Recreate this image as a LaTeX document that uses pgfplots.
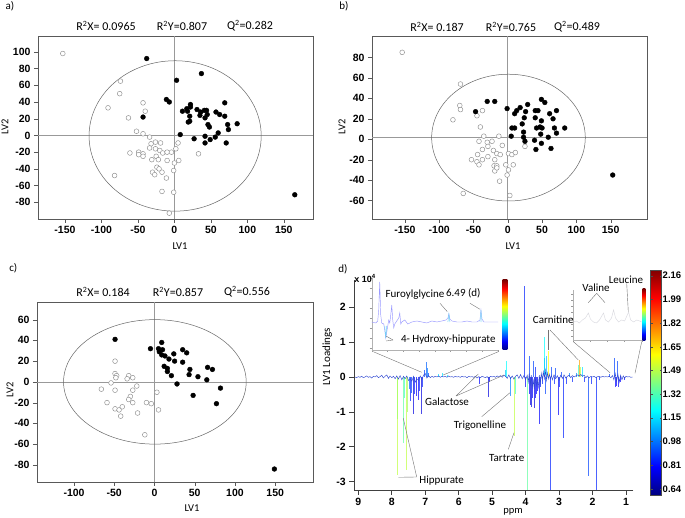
\documentclass[border=0pt]{standalone}
\usepackage{fontspec}
\setmainfont{Carlito}
\newfontfamily\tfont{Liberation Sans}[BoldFont={Liberation Sans Bold}]
\usepackage{pgfplots}
\pgfplotsset{compat=1.18}

\pgfdeclareverticalshading{jetv}{100bp}{rgb(0bp)=(0,0,.5); rgb(25bp)=(0,0,.5); rgb(31.25bp)=(0,0,1); rgb(43.75bp)=(0,1,1); rgb(56.25bp)=(1,1,0); rgb(68.75bp)=(1,0,0); rgb(75bp)=(.5,0,0); rgb(100bp)=(.5,0,0)}
\definecolor{base}{rgb}{0.18,0.28,0.82}

\pgfplotsset{
  boldticks/.style={
    ticklabel style={font=\tfont\bfseries\fontsize{10.5}{12}\selectfont, text=black},
    xticklabel={\pgfmathprintnumber[assume math mode=true]{\tick}},
    yticklabel={\pgfmathprintnumber[assume math mode=true]{\tick}}},
  score/.style={scale only axis, anchor=south west, tick align=outside, tick pos=left,
    major tick length=4pt, axis line style={black!65, line width=0.6pt}, tick style={black!65},
    boldticks},
  open/.style={only marks, mark=*, mark size=2.4pt, mark options={draw=black!45, fill=white, line width=0.45pt}},
  full/.style={only marks, mark=*, mark size=2.4pt, mark options={draw=black, fill=black}},
  inset/.style={scale only axis, anchor=south west, axis x line*=bottom, axis y line*=left,
    axis line style={black!30, line width=0.4pt}, tick style={black!40, line width=0.3pt},
    major tick length=2pt, tick align=outside, xticklabels={}, yticklabels={}},
}
\newcommand{\ann}{\fontsize{11}{13}\selectfont}
\newcommand{\ttl}{\fontsize{12}{14}\selectfont}
\newcommand{\lab}{\fontsize{10.5}{12}\selectfont}

\begin{document}
\begin{tikzpicture}
\useasboundingbox (0pt,0pt) rectangle (685pt,518pt);

% ---------- a ----------
\begin{axis}[score, at={(38pt,299pt)}, width=275pt, height=183pt,
  xmin=-187, xmax=190, ymin=-100, ymax=119,
  xtick={-150,-100,...,150}, ytick={-80,-60,...,100}]
\draw[black!40, line width=0.6pt] (axis cs:0,-100) -- (axis cs:0,119);
\draw[black!40, line width=0.6pt] (axis cs:-187,0) -- (axis cs:190,0);
\draw[black!60, line width=0.5pt] (axis cs:1,-0.6) ellipse [x radius=118, y radius=90];
\addplot[open] coordinates {(-153,98)(-74,65)(-75,50)(-91,33)(-43,39)(-40,29)(-63,21)(-52,5)(-43,2)(-34,-2)(-32,-10)(-34,-15)(-26,-8)(-19,-9)(-26,-16)(-20,-18)(-16,-21)(-10,-20)(-4,-20)(2,-16)(5,-9)(-61,-21)(-49,-20)(-43,-22)(-43,-25)(-49,-23)(-31,-29)(-25,-25)(-22,-29)(-10,-30)(0,-33)(6,-30)(33,-22)(-24,-38)(-21,-40)(-17,-44)(-30,-44)(-27,-47)(-11,-51)(-1,-42)(-82,-48)(-17,-67)(-1,-68)(-7,-93)};
\addplot[full] coordinates {(-38,92)(37,74)(3,66)(-11,43)(-7,40)(-43,22)(8,1)(11,29)(17,32)(22,37)(22,34)(18,29)(21,23)(19,16)(21,17)(31,31)(36,28)(35,24)(41,30)(44,30)(42,21)(45,25)(46,13)(48,10)(57,28)(62,25)(69,39)(69,23)(73,13)(74,7)(86,14)(27,-4)(42,-1)(42,-9)(49,-5)(56,-2)(60,3)(71,-9)(165,-71)};
\end{axis}

% ---------- b ----------
\begin{axis}[score, at={(372pt,299pt)}, width=275pt, height=183pt,
  xmin=-198, xmax=203, ymin=-78, ymax=101,
  xtick={-150,-100,...,150}, ytick={-60,-40,...,80}]
\draw[black!40, line width=0.6pt] (axis cs:0,-78) -- (axis cs:0,101);
\draw[black!40, line width=0.6pt] (axis cs:-198,2) -- (axis cs:203,2);
\draw[black!60, line width=0.5pt] (axis cs:1,1.6) ellipse [x radius=112, y radius=62];
\addplot[open] coordinates {(-154,85)(-69,54)(-70,33)(-69,29)(-80,19)(-37,28)(-45,23)(-40,12)(-53,-20)(-35,3)(-42,-2)(-30,-3)(-29,-7)(-23,-2)(-13,3)(-8,-6)(-37,-10)(-44,-15)(-45,-22)(-42,-25)(-37,-20)(-29,-17)(-21,-11)(-16,-14)(-11,-15)(-19,-20)(-20,-26)(-16,-26)(-19,-31)(-16,-28)(-3,-25)(1,-14)(6,-15)(11,-13)(8,-25)(1,-30)(-1,-35)(-12,-41)(3,-55)(-65,-53)(25,-7)};
\addplot[full] coordinates {(-30,37)(-19,37)(-47,27)(-1,30)(5,3)(6,11)(10,11)(10,25)(13,28)(18,31)(29,34)(26,27)(24,21)(21,15)(23,7)(23,2)(25,-2)(40,28)(44,28)(40,21)(42,11)(47,12)(49,18)(50,11)(48,5)(39,-1)(41,-10)(49,39)(54,36)(61,25)(66,20)(71,28)(68,11)(71,6)(83,11)(59,2)(49,-4)(63,-9)(153,-35)};
\end{axis}

% ---------- c ----------
\begin{axis}[score, at={(37pt,36pt)}, width=276pt, height=180pt,
  xmin=-146, xmax=197, ymin=-96.5, ymax=77,
  xtick={-100,-50,...,150}, ytick={-80,-60,...,60}]
\draw[black!40, line width=0.6pt] (axis cs:0,-96.5) -- (axis cs:0,77);
\draw[black!40, line width=0.6pt] (axis cs:-146,0) -- (axis cs:197,0);
\draw[black!60, line width=0.5pt] (axis cs:0.5,0) ellipse [x radius=113.5, y radius=60];
\addplot[open] coordinates {(-49,20)(-49,8)(-47,6)(-48,4)(-54,-1)(-66,-7)(-49,-8)(-59,-20)(-49,-26)(-44,-27)(-40,-24)(-42,-33)(-32,6)(-34,3)(-27,4)(-27,-8)(-22,-4)(-30,-14)(-32,-17)(-27,-20)(-21,-30)(-10,-20)(-4,-21)(3,-10)(5,-27)(-12,-51)};
\addplot[full] coordinates {(-49,41)(-5,32)(9,38)(5,32)(10,31)(6,29)(9,26)(13,25)(18,22)(24,27)(25,20)(12,15)(16,13)(16,10)(21,6)(28,-2)(35,31)(40,28)(35,19)(44,12)(43,7)(54,5)(66,14)(72,12)(65,2)(48,-13)(82,-6)(77,-21)(149,-84)};
\end{axis}

% ---------- d ----------
\begin{axis}[scale only axis, anchor=south west, at={(354.3pt,28pt)}, width=279pt, height=210pt,
  x dir=reverse, xmin=0.78, xmax=9.12, ymin=-3.24, ymax=2.78,
  axis x line*=bottom, axis y line*=left, tick align=outside, major tick length=5pt,
  xtick={1,...,9}, ytick={-3,...,2},
  axis line style={black!75, line width=0.7pt}, tick style={black!75, line width=0.6pt},
  boldticks,
  colormap/jet, point meta min=0.6, point meta max=2.2,
  colorbar,
  colorbar style={at={(parent axis.south east)}, anchor=south west, xshift=8.7pt, yshift=-5pt,
    scale only axis, width=11pt, height=225pt, axis lines=box,
    ytick={0.64,0.81,0.98,1.15,1.32,1.49,1.65,1.82,1.99,2.16},
    major tick length=2pt, axis line style={black!70}, tick style={black!70},
    yticklabel={\pgfmathprintnumber[assume math mode=true, fixed, fixed zerofill, precision=2]{\tick}},
    yticklabel style={font=\tfont\bfseries\fontsize{9.5}{11}\selectfont, inner sep=1pt, text=black}},
]
\addplot[quiver={u=0, v=\thisrow{v}, colored=mapped color}, point meta=\thisrow{c}, -, line width=0.45pt, opacity=0.7] table {
x y v c
7.85 0 -2.82 1.50
7.83 0 -1.20 1.45
7.67 0 -1.90 1.35
7.64 0 -0.60 1.30
7.56 0 -2.68 1.50
7.53 0 -1.00 1.45
7.48 0 -0.35 0.95
7.45 0 -0.70 0.85
7.42 0 -0.45 0.90
7.36 0 -1.05 0.75
7.32 0 -0.50 0.85
7.28 0 -0.55 0.80
7.22 0 -0.65 0.80
7.19 0 -0.40 0.85
7.13 0 -1.05 0.75
7.10 0 -0.30 0.85
7.02 0 0.20 0.90
6.98 0 0.42 0.95
6.95 0 0.25 1.00
6.90 0 0.12 0.90
6.62 0 0.08 1.15
6.50 0 0.10 1.15
6.33 0 0.07 1.20
5.40 0 -0.20 0.80
5.12 0 -0.56 0.75
5.08 0 -0.15 0.80
4.62 0 0.20 1.10
4.58 0 0.45 1.20
4.47 0 -0.55 1.00
4.35 0 -1.70 1.50
4.32 0 -0.50 1.30
4.04 0 2.62 0.85
4.02 0 -0.30 0.80
3.95 0 -3.30 1.35
3.90 0 0.60 0.90
3.88 0 -0.50 0.80
3.85 0 -0.80 0.75
3.82 0 -0.85 0.75
3.80 0 -0.60 0.80
3.78 0 0.45 0.90
3.75 0 -0.90 0.75
3.72 0 -0.60 0.80
3.70 0 0.30 0.85
3.68 0 -0.50 0.80
3.64 0 -0.40 0.80
3.60 0 -1.35 0.80
3.57 0 -0.30 0.85
3.50 0 -0.20 0.85
3.45 0 0.55 0.90
3.43 0 1.15 1.20
3.40 0 -0.50 0.90
3.37 0 0.60 1.10
3.33 0 0.75 1.60
3.26 0 -3.40 0.85
3.22 0 0.30 0.90
3.15 0 -0.20 0.85
3.10 0 0.25 0.90
3.03 0 -1.10 0.80
2.98 0 -0.30 0.85
2.92 0 0.15 0.90
2.86 0 -1.75 0.85
2.80 0 -0.20 0.85
2.70 0 0.12 1.00
2.60 0 -0.15 0.85
2.50 0 0.10 1.00
2.42 0 0.35 1.30
2.39 0 0.50 1.75
2.36 0 0.30 1.50
2.30 0 0.30 1.15
2.25 0 -0.15 0.85
2.13 0 -2.85 0.90
2.05 0 -0.20 0.85
1.90 0 -3.40 0.85
1.80 0 -0.10 0.85
1.50 0 0.08 0.90
1.35 0 0.55 0.90
1.33 0 -0.30 0.80
1.28 0 -0.25 0.80
1.25 0 0.45 0.90
1.22 0 -0.30 0.80
1.18 0 -0.15 0.80
1.05 0 -0.10 0.80
};
\addplot[base, line width=0.45pt] coordinates {
(9.10,0.00)(9.05,-0.02)(9.00,0.01)(8.95,-0.01)(8.90,0.02)(8.85,-0.02)(8.80,0.00)(8.75,0.03)(8.70,-0.01)(8.65,0.01)(8.60,-0.03)(8.55,0.02)(8.50,0.00)(8.45,0.04)(8.40,-0.02)(8.35,0.01)(8.30,0.05)(8.25,-0.03)(8.20,0.02)(8.15,0.06)(8.10,-0.04)(8.05,0.03)(8.00,-0.02)(7.95,0.02)(7.90,-0.05)(7.85,0.03)(7.80,-0.06)(7.75,0.04)(7.70,-0.08)(7.65,0.02)(7.60,-0.05)(7.55,0.03)(7.50,-0.10)(7.45,-0.05)(7.40,-0.12)(7.35,0.02)(7.30,-0.15)(7.25,-0.05)(7.20,-0.10)(7.15,0.03)(7.10,-0.08)(7.05,0.05)(7.00,0.10)(6.95,-0.03)(6.90,0.04)(6.85,-0.02)(6.80,0.02)(6.75,-0.01)(6.70,0.02)(6.65,0.00)(6.60,0.03)(6.55,-0.01)(6.50,0.02)(6.45,0.00)(6.40,0.02)(6.35,-0.01)(6.30,0.03)(6.25,0.00)(6.20,0.01)(6.15,-0.01)(6.10,0.02)(6.05,0.00)(6.00,0.01)(5.95,-0.01)(5.90,0.02)(5.85,0.00)(5.80,0.01)(5.75,-0.02)(5.70,0.02)(5.65,0.00)(5.60,0.01)(5.55,-0.01)(5.50,0.02)(5.45,-0.03)(5.40,0.01)(5.35,-0.02)(5.30,0.02)(5.25,0.00)(5.20,-0.02)(5.15,0.01)(5.10,-0.04)(5.05,0.02)(5.00,0.00)(4.95,0.02)(4.90,-0.01)(4.85,0.03)(4.80,0.00)(4.75,0.04)(4.70,-0.01)(4.65,0.05)(4.60,0.02)(4.55,-0.04)(4.50,0.06)(4.45,-0.05)(4.40,0.03)(4.35,-0.06)(4.30,0.02)(4.25,0.06)(4.20,-0.04)(4.15,0.07)(4.10,-0.05)(4.05,0.04)(4.00,-0.08)(3.95,0.05)(3.92,-0.15)(3.89,0.10)(3.86,-0.25)(3.83,0.05)(3.80,-0.30)(3.77,-0.10)(3.74,-0.35)(3.71,0.00)(3.68,-0.25)(3.65,-0.10)(3.62,-0.30)(3.59,0.05)(3.56,-0.20)(3.53,0.10)(3.50,-0.08)(3.47,0.15)(3.44,-0.05)(3.41,0.20)(3.38,-0.10)(3.35,0.12)(3.32,-0.05)(3.29,0.08)(3.26,-0.06)(3.23,0.05)(3.20,-0.08)(3.15,0.06)(3.10,-0.05)(3.05,0.04)(3.00,-0.10)(2.95,0.05)(2.90,-0.04)(2.85,0.06)(2.80,-0.03)(2.75,0.02)(2.70,0.05)(2.65,-0.02)(2.60,0.04)(2.55,0.00)(2.50,0.03)(2.45,0.06)(2.40,0.03)(2.35,0.07)(2.30,0.02)(2.25,0.05)(2.20,-0.02)(2.15,0.03)(2.10,-0.03)(2.05,0.02)(2.00,0.00)(1.95,0.02)(1.90,-0.02)(1.85,0.01)(1.80,0.02)(1.75,-0.01)(1.70,0.02)(1.65,0.00)(1.60,0.01)(1.55,0.00)(1.50,0.02)(1.45,-0.02)(1.40,0.04)(1.36,-0.08)(1.32,0.10)(1.28,-0.12)(1.24,0.08)(1.20,-0.15)(1.16,0.05)(1.12,-0.08)(1.08,0.03)(1.04,-0.04)(1.00,0.02)(0.95,0.00)(0.90,0.01)(0.85,-0.01)(0.80,0.00)};
\end{axis}

% left inset
\begin{axis}[inset, at={(371.7pt,168pt)}, width=126.3pt, height=72pt,
  xmin=0, xmax=126, ymin=0, ymax=72, xtick={0,15.75,...,126}, ytick={2,12,...,72}]
\addplot[blue!40, line width=0.45pt] coordinates {(0,28)(4,27)(6,29)(7,40)(8,68)(9,35)(10,27)(12,26)(13,20)(14,12)(15,18)(16,24)(17,30)(18,27)(19,35)(20,45)(21,30)(22,22)(23,26)(25,29)(27,32)(28,37)(29,26)(30,28)(33,30)(36,26)(40,28)(45,29)(50,28)(55,27)(60,29)(65,28)(70,29)(74,30)(76,32)(77,36)(78,31)(80,29)(85,28)(90,28)(95,29)(100,28)(105,28)(108,30)(109,40)(110,31)(112,28)(118,28)(122,28)(126,28)};
\addplot[cyan!55, line width=0.5pt] coordinates {(13,24)(14,12)(15,24)};
\addplot[cyan!55, line width=0.5pt] coordinates {(76,28)(77,36)(78,28)};
\addplot[cyan!45, line width=0.5pt] coordinates {(108,28)(109,40)(110,28)};
\end{axis}

% right inset
\begin{axis}[inset, at={(573.3pt,178pt)}, width=68.4pt, height=50pt,
  xmin=0, xmax=68, ymin=0, ymax=50, xtick={0,17,...,68}, ytick={4,10,...,50}]
\addplot[blue!15!black!15, line width=0.45pt] coordinates {(0,18)(3,19)(6,17)(9,20)(12,22)(15,27)(17,21)(20,18)(23,17)(26,20)(30,27)(32,20)(35,18)(38,22)(40,30)(42,22)(45,18)(48,20)(51,19)(55,28)(57,20)(60,18)(63,20)(66,19)(68,18)};
\end{axis}

\begin{scope}[x=1pt, y=1pt]
\shade[shading=jetv] (502.7,168) rectangle (507.3,238);
\shade[shading=jetv] (642.7,177) rectangle (645.3,229);

% panel letters and titles
\node[font=\ann] at (10,511.3) {a)};
\node[font=\ann] at (344,511.3) {b)};
\node[font=\ann] at (13.3,249.7) {c)};
\node[font=\ann] at (343,248.7) {d)};

\node[font=\ttl] at (106,492) {R\textsuperscript{2}X= 0.0965};
\node[font=\ttl] at (182,492) {R\textsuperscript{2}Y=0.807};
\node[font=\ttl] at (250,492) {Q\textsuperscript{2}=0.282};
\node[font=\ttl] at (437,491) {R\textsuperscript{2}X= 0.187};
\node[font=\ttl] at (511,491) {R\textsuperscript{2}Y=0.765};
\node[font=\ttl] at (577,491) {Q\textsuperscript{2}=0.489};
\node[font=\ttl] at (103,226) {R\textsuperscript{2}X= 0.184};
\node[font=\ttl] at (178,226) {R\textsuperscript{2}Y=0.857};
\node[font=\ttl] at (247,226) {Q\textsuperscript{2}=0.556};

\node[font=\lab] at (180,272) {LV1};
\node[font=\lab] at (513,272) {LV1};
\node[font=\lab] at (192,10) {LV1};
\node[font=\lab, rotate=90] at (5,391) {LV2};
\node[font=\lab, rotate=90] at (342,391) {LV2};
\node[font=\lab, rotate=90] at (10,128) {LV2};
\node[font=\ann, rotate=90] at (327.3,161.3) {LV1 Loadings};
\node[font=\lab] at (513,6) {ppm};
\node[font=\tfont\bfseries\fontsize{9}{10}\selectfont] at (365,239.7) {x 10\textsuperscript{4}};

% annotations in d
\node[font=\ann] at (415,223) {Furoylglycine};
\node[font=\ann] at (463.3,224.7) {6.49 (d)};
\node[font=\ann] at (448.3,178.7) {4- Hydroxy-hippurate};
\node[font=\ann] at (447,116) {Galactose};
\node[font=\ann] at (480,92) {Trigonelline};
\node[font=\ann] at (506.7,59.7) {Tartrate};
\node[font=\ann] at (441.7,37) {Hippurate};
\node[font=\ann] at (553.3,198.7) {Carnitine};
\node[font=\ann] at (596,230.7) {Valine};
\node[font=\ann] at (626,238.7) {Leucine};

\begin{scope}[black!55, line width=0.4pt]
\draw (440,214.7) -- (447.3,206.3);
\draw (470,214.7) -- (480,208.7);
\draw (393,178) -- (386,182);
\draw (393,178) -- (386,177);
\draw (456,122) -- (478.3,144);
\draw (456,122) -- (504,143);
\draw (481.7,101.3) -- (510,125.3);
\draw (508.3,68.7) -- (514,85.3);
\draw (416.7,41) -- (398.3,40.7);
\draw (416.7,41) -- (403.3,99.7);
\draw (548.3,188) -- (548.3,168);
\draw (550,188) -- (578.3,158);
\draw (596.7,224.7) -- (588.3,215.3);
\draw (596.7,224.7) -- (605,215.3);
\draw (626.7,234.7) -- (628.3,206.3);
\draw (373.3,166.3) -- (421.7,145.7);
\draw (498.3,166.3) -- (443.3,143);
\draw (573.3,176.3) -- (610,145.3);
\draw (641.7,176.3) -- (635,144.7);
\end{scope}
\end{scope}
\end{tikzpicture}
\end{document}
